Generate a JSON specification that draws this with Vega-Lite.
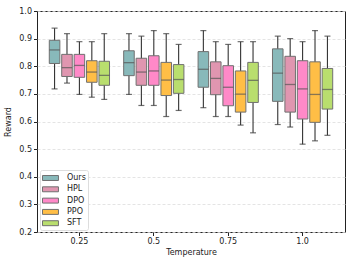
{
  "$schema": "https://vega.github.io/schema/vega-lite/v6.json",
  "width": 308,
  "height": 221,
  "autosize": {"type": "none"},
  "padding": {"left": 37, "top": 11, "right": 9, "bottom": 34},
  "config": {
    "font": "DejaVu Sans",
    "view": {"stroke": "#222", "strokeWidth": 1},
    "axis": {
      "labelFont": "DejaVu Sans",
      "titleFont": "DejaVu Sans",
      "labelFontSize": 8,
      "titleFontSize": 8,
      "titleFontWeight": "normal",
      "labelColor": "#222",
      "titleColor": "#222",
      "tickColor": "#222",
      "tickSize": 3.5,
      "domain": false,
      "labelOverlap": false
    }
  },
  "data": {
    "values": [
      {"temp": "0.25", "method": "Ours", "lo": 0.718, "q1": 0.810, "med": 0.859, "q3": 0.894, "hi": 0.938},
      {"temp": "0.25", "method": "HPL", "lo": 0.739, "q1": 0.763, "med": 0.795, "q3": 0.843, "hi": 0.918},
      {"temp": "0.25", "method": "DPO", "lo": 0.698, "q1": 0.760, "med": 0.803, "q3": 0.843, "hi": 0.889},
      {"temp": "0.25", "method": "PPO", "lo": 0.688, "q1": 0.742, "med": 0.779, "q3": 0.820, "hi": 0.889},
      {"temp": "0.25", "method": "SFT", "lo": 0.680, "q1": 0.731, "med": 0.767, "q3": 0.818, "hi": 0.918},
      {"temp": "0.5", "method": "Ours", "lo": 0.698, "q1": 0.766, "med": 0.813, "q3": 0.856, "hi": 0.918},
      {"temp": "0.5", "method": "HPL", "lo": 0.658, "q1": 0.731, "med": 0.779, "q3": 0.829, "hi": 0.909},
      {"temp": "0.5", "method": "DPO", "lo": 0.658, "q1": 0.731, "med": 0.783, "q3": 0.838, "hi": 0.929},
      {"temp": "0.5", "method": "PPO", "lo": 0.618, "q1": 0.694, "med": 0.750, "q3": 0.814, "hi": 0.918},
      {"temp": "0.5", "method": "SFT", "lo": 0.640, "q1": 0.702, "med": 0.752, "q3": 0.806, "hi": 0.879},
      {"temp": "0.75", "method": "Ours", "lo": 0.650, "q1": 0.724, "med": 0.789, "q3": 0.853, "hi": 0.929},
      {"temp": "0.75", "method": "HPL", "lo": 0.618, "q1": 0.697, "med": 0.756, "q3": 0.816, "hi": 0.889},
      {"temp": "0.75", "method": "DPO", "lo": 0.618, "q1": 0.657, "med": 0.724, "q3": 0.802, "hi": 0.879},
      {"temp": "0.75", "method": "PPO", "lo": 0.587, "q1": 0.634, "med": 0.699, "q3": 0.783, "hi": 0.889},
      {"temp": "0.75", "method": "SFT", "lo": 0.559, "q1": 0.669, "med": 0.749, "q3": 0.814, "hi": 0.889},
      {"temp": "1.0", "method": "Ours", "lo": 0.589, "q1": 0.673, "med": 0.775, "q3": 0.863, "hi": 0.909},
      {"temp": "1.0", "method": "HPL", "lo": 0.580, "q1": 0.634, "med": 0.734, "q3": 0.836, "hi": 0.900},
      {"temp": "1.0", "method": "DPO", "lo": 0.518, "q1": 0.609, "med": 0.718, "q3": 0.820, "hi": 0.889},
      {"temp": "1.0", "method": "PPO", "lo": 0.530, "q1": 0.597, "med": 0.698, "q3": 0.816, "hi": 0.929},
      {"temp": "1.0", "method": "SFT", "lo": 0.550, "q1": 0.645, "med": 0.716, "q3": 0.792, "hi": 0.909}
    ]
  },
  "encoding": {
    "x": {
      "field": "temp", "type": "nominal", "sort": ["0.25", "0.5", "0.75", "1.0"],
      "scale": {"paddingInner": 0, "paddingOuter": 0.07},
      "axis": {"title": "Temperature", "labelAngle": 0, "grid": false, "titlePadding": 3, "labelPadding": 2}
    },
    "xOffset": {
      "field": "method", "type": "nominal", "sort": ["Ours", "HPL", "DPO", "PPO", "SFT"],
      "scale": {"paddingInner": 0.15, "paddingOuter": 0.57}
    },
    "y": {
      "field": "lo", "type": "quantitative",
      "scale": {"domain": [0.2, 1.0], "nice": false, "zero": false},
      "axis": {"title": "Reward", "values": [0.2, 0.3, 0.4, 0.5, 0.6, 0.7, 0.8, 0.9, 1.0], "format": ".1f", "labelOverlap": false,
               "grid": true, "gridColor": "#dddddd", "gridDash": [3, 2], "gridWidth": 0.8, "titlePadding": 6, "labelPadding": 2}
    }
  },
  "layer": [
    {
      "mark": {"type": "rule", "color": "#333", "strokeWidth": 1.1},
      "encoding": {
        "y2": {"field": "hi"}
      }
    },
    {
      "mark": {"type": "tick", "orient": "horizontal", "color": "#333", "size": 6, "thickness": 1.2},
      "encoding": {}
    },
    {
      "mark": {"type": "tick", "orient": "horizontal", "color": "#333", "size": 6, "thickness": 1.2},
      "encoding": {"y": {"field": "hi", "type": "quantitative"}}
    },
    {
      "mark": {"type": "bar", "stroke": "#707070", "strokeWidth": 1, "fillOpacity": 1},
      "encoding": {
        "y": {"field": "q1", "type": "quantitative"},
        "y2": {"field": "q3"},
        "color": {
          "field": "method", "type": "nominal", "sort": ["Ours", "HPL", "DPO", "PPO", "SFT"],
          "scale": {"domain": ["Ours", "HPL", "DPO", "PPO", "SFT"], "range": ["#88b9ba", "#e096b0", "#ff89c8", "#ffbe46", "#b9de6e"]},
          "legend": {
            "title": null, "orient": "none", "legendX": 3, "legendY": 159,
            "symbolType": "M-1,-0.45H1.9V0.45H-1Z", "symbolSize": 121, "symbolStrokeColor": "#707070", "symbolStrokeWidth": 1,
            "symbolOpacity": 1, "labelFontSize": 8, "labelColor": "#222", "labelFont": "DejaVu Sans",
            "labelExpr": "datum.label + '\u00a0\u00a0\u00a0\u00a0\u00a0'",
            "rowPadding": 0.3, "padding": 2, "strokeColor": "#dddddd", "fillColor": "white", "cornerRadius": 2, "labelOffset": 13
          }
        }
      }
    },
    {
      "mark": {"type": "tick", "orient": "horizontal", "color": "#555", "size": 10.5, "thickness": 1.3},
      "encoding": {"y": {"field": "med", "type": "quantitative"}}
    }
  ]
}
